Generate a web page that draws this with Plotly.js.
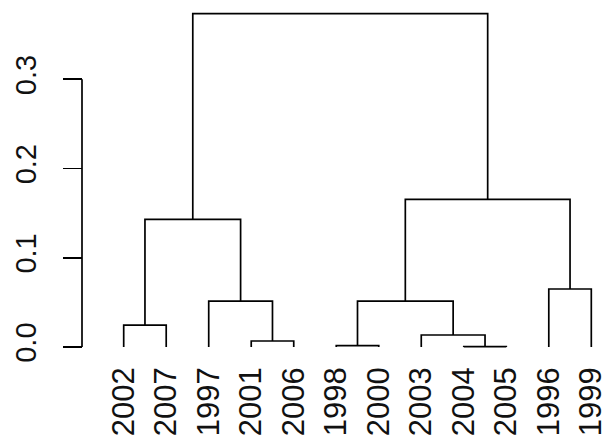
<!DOCTYPE html>
<html>
<head>
<meta charset="utf-8">
<script src="https://cdn.plot.ly/plotly-3.0.1.min.js"></script>
<style>html,body{margin:0;padding:0;background:#fff;}#chart{width:611px;height:444px;}</style>
</head>
<body>
<div id="chart"></div>
<script>
// Leaf labels in dendrogram order (left to right)
const leafLabels = ["2002","2007","1997","2001","2006","1998","2000","2003","2004","2005","1996","1999"];
// Merge table (R hclust style): negative = leaf position (1-based), positive = earlier merge row (1-based)
const mergeLeft  = [-9, -6, -4, -8, -1, -3,  2, -11, 5, 7,  9];
const mergeRight = [-10, -7, -5, 1, -2,  3,  4, -12, 6, 8, 10];
const mergeHeight = [0.0005, 0.0015, 0.0067, 0.0134, 0.0246, 0.0515, 0.0513, 0.065, 0.143, 0.1654, 0.3737];
// Y axis ticks
const yTickVals = [0, 0.1, 0.2, 0.3];
const yTickText = ["0.0", "0.1", "0.2", "0.3"];

const leafX = leafLabels.map((_, i) => i + 1);
const nodeX = [], nodeY = [];
const xs = [], ys = [];
function childPos(c) {
  if (c < 0) return [leafX[-c - 1], 0];
  return [nodeX[c - 1], nodeY[c - 1]];
}
for (let i = 0; i < mergeHeight.length; i++) {
  const [xl, yl] = childPos(mergeLeft[i]);
  const [xr, yr] = childPos(mergeRight[i]);
  const h = mergeHeight[i];
  xs.push(xl, xl, xr, xr, null);
  ys.push(yl, h, h, yr, null);
  nodeX.push((xl + xr) / 2);
  nodeY.push(h);
}

const font = {family: "Liberation Sans, Arial, sans-serif", color: "#000"};
const data = [{
  type: "scatter", mode: "lines", x: xs, y: ys,
  line: {color: "#000", width: 1.7}, hoverinfo: "skip", showlegend: false
}];
const layout = {
  width: 611, height: 444,
  margin: {l: 82, r: 1, t: 0, b: 84},
  paper_bgcolor: "#fff", plot_bgcolor: "#fff",
  font: font,
  showlegend: false,
  xaxis: {
    domain: [0.04356, 1],
    range: [0.56, 12.44],
    tickmode: "array", tickvals: leafX, ticktext: leafLabels,
    tickangle: -90, ticks: "", showgrid: false, zeroline: false, showline: false,
    tickfont: {size: 31, family: font.family, color: "#111"},
    automargin: false
  },
  yaxis: {
    anchor: "free", position: 0,
    range: [-0.0146, 0.3889],
    tickmode: "array", tickvals: yTickVals, ticktext: yTickText,
    tickangle: -90, ticks: "outside", ticklen: 19, tickwidth: 1.7, tickcolor: "#000",
    ticklabelstandoff: 15,
    showgrid: false, zeroline: false, showline: false,
    tickfont: {size: 29, family: font.family, color: "#111"},
    automargin: false
  },
  shapes: [{
    type: "line", xref: "paper", yref: "y",
    x0: 0, x1: 0, y0: yTickVals[0], y1: yTickVals[yTickVals.length - 1],
    line: {color: "#000", width: 1.7}
  }]
};
Plotly.newPlot("chart", data, layout, {staticPlot: true, displayModeBar: false});
</script>
</body>
</html>
